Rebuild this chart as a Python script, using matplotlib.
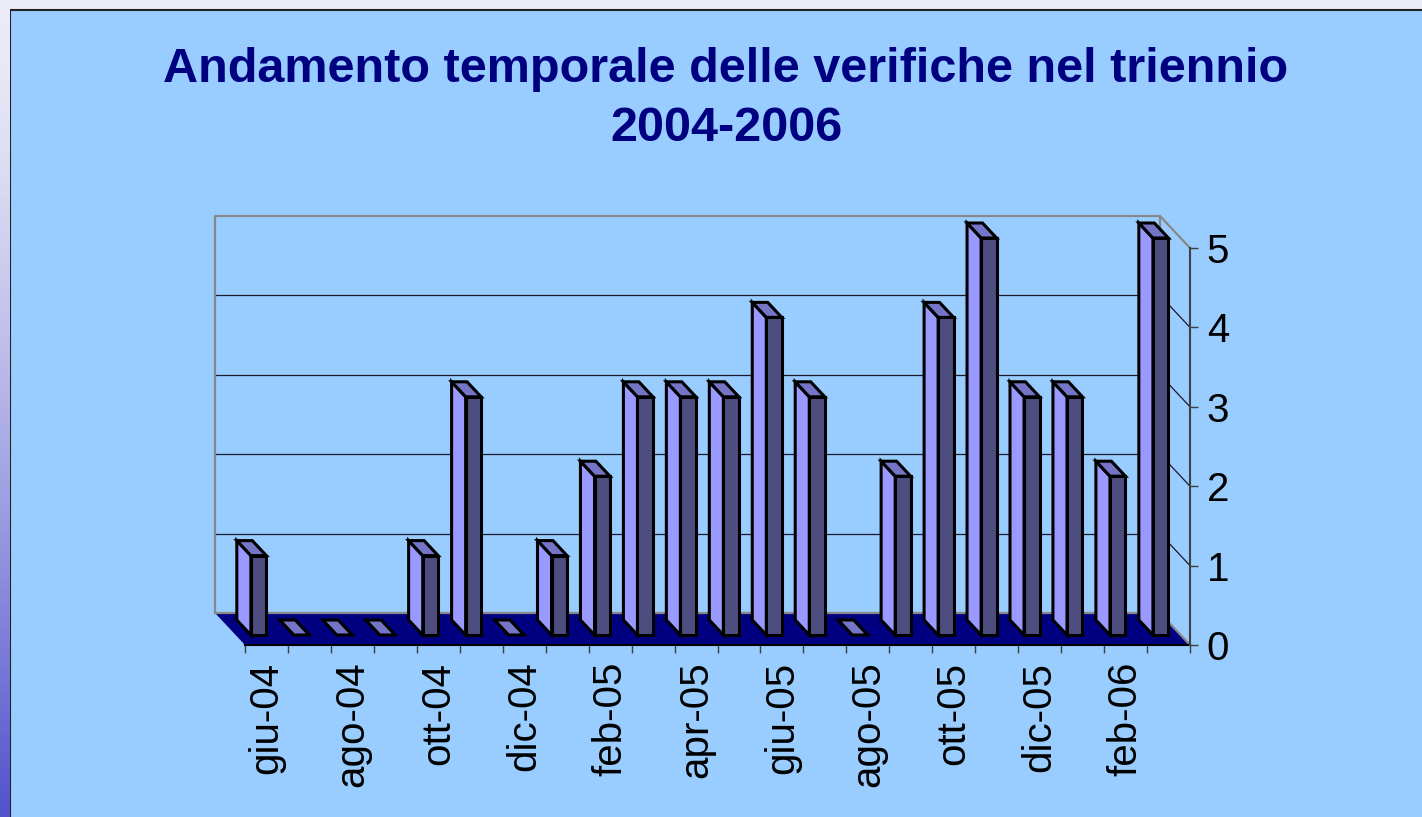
import numpy as np
import matplotlib
matplotlib.use("Agg")
import matplotlib.pyplot as plt
from matplotlib.patches import Polygon, Rectangle
from matplotlib.colors import LinearSegmentedColormap

plt.rcParams['font.family'] = ['Liberation Sans', 'DejaVu Sans']

# ---- data ----
months = ["giu-04", "lug-04", "ago-04", "set-04", "ott-04", "nov-04", "dic-04",
          "gen-05", "feb-05", "mar-05", "apr-05", "mag-05", "giu-05", "lug-05",
          "ago-05", "set-05", "ott-05", "nov-05", "dic-05", "gen-06", "feb-06",
          "mar-06"]
values = [1, 0, 0, 0, 1, 3, 0, 1, 2, 3, 3, 3, 4, 3, 0, 2, 4, 5, 3, 3, 2, 5]
yticks = [0, 1, 2, 3, 4, 5]
title = "Andamento temporale delle verifiche nel triennio\n2004-2006"

# ---- style ----
W, H = 1422, 817
BG = "#99CCFF"
FLOOR = "#000080"
SIDE = "#9999FF"
FRONT = "#4D4D80"
TOP = "#7575C8"
WALL_EDGE = "#888888"
AX_GRAY = "#404040"

fig = plt.figure(figsize=(W / 100, H / 100), dpi=100, facecolor="#ECECF6")

# left gradient strip
gax = fig.add_axes([0, 0, 10 / W, 1])
grad = np.linspace(0, 1, 256) ** 1.4
cmap = LinearSegmentedColormap.from_list("g", ["#ECECF8", "#5252CC"])
gax.imshow(grad[:, None], aspect="auto", cmap=cmap, extent=[0, 1, 0, 1], origin="upper")
gax.axis("off")

# chart area
fig.patches.append(Rectangle((10 / W, -0.01), 1.0, 1 - 10 / H + 0.01,
                             transform=fig.transFigure, facecolor=BG,
                             edgecolor="#222222", linewidth=1.5, zorder=-5))

fig.text(726 / W, 1 - 99 / H, title, ha="center", va="center", fontsize=35,
         fontweight="bold", color="#000080", linespacing=1.42)

n = len(values)
ax = fig.add_axes([245 / W, (H - 645) / H, 945 / W, 397 / H])
ax.set_xlim(0, n)
ax.set_ylim(0, 5)
ax.set_facecolor("none")

# depth vector of the floor (data units)
DX, DY = -30 / (945 / n), 32 / (397 / 5)
f1, f2 = 10 / 32, 25 / 32
bw = 0.36
shift = 0.035

# floor
floor = Polygon([(0, 0), (n, 0), (n + DX, DY), (DX, DY)], closed=True,
                facecolor=FLOOR, edgecolor="none", clip_on=False, zorder=1)
ax.add_patch(floor)
# wall edges
ax.plot([DX, DX, n + DX, n + DX], [DY, 5 + DY, 5 + DY, DY], color=WALL_EDGE,
        lw=1.6, clip_on=False, zorder=1.2)
ax.plot([DX, n + DX], [DY, DY], color=WALL_EDGE, lw=1.6, clip_on=False, zorder=1.2)
ax.plot([n + DX, n], [5 + DY, 5], color=WALL_EDGE, lw=1.6, clip_on=False, zorder=1.2)
ax.plot([n + DX, n], [DY, 0], color=WALL_EDGE, lw=1.6, clip_on=False, zorder=1.2)
# gridlines on back wall and right wall
for v in yticks[1:-1]:
    ax.plot([DX, n + DX], [v + DY, v + DY], color="#1a1a2a", lw=0.9, clip_on=False, zorder=1.1)
    ax.plot([n + DX, n], [v + DY, v], color="#1a1a2a", lw=0.9, clip_on=False, zorder=1.1)

# bars
for i, v in enumerate(values):
    xc = i + 0.5 + shift
    xl, xr = xc - bw / 2, xc + bw / 2
    a1x, a1y = f1 * DX, f1 * DY
    a2x, a2y = f2 * DX, f2 * DY
    kw = dict(closed=True, edgecolor="black", linewidth=2.2, clip_on=False,
              joinstyle="miter", zorder=3)
    if v == 0:
        ax.add_patch(Polygon([(xl + a1x, a1y), (xr + a1x, a1y), (xr + a2x, a2y),
                              (xl + a2x, a2y)], facecolor=TOP, **kw))
        continue
    ax.add_patch(Polygon([(xl + a1x, a1y), (xl + a1x, v + a1y), (xl + a2x, v + a2y),
                          (xl + a2x, a2y)], facecolor=SIDE, **kw))
    ax.add_patch(Polygon([(xl + a1x, v + a1y), (xr + a1x, v + a1y), (xr + a2x, v + a2y),
                          (xl + a2x, v + a2y)], facecolor=TOP, **kw))
    ax.add_patch(Polygon([(xl + a1x, a1y), (xr + a1x, a1y), (xr + a1x, v + a1y),
                          (xl + a1x, v + a1y)], facecolor=FRONT, **kw))

# axes styling
for s in ["top", "left"]:
    ax.spines[s].set_visible(False)
ax.spines["right"].set_color(AX_GRAY)
ax.spines["right"].set_linewidth(1.5)
ax.spines["bottom"].set_color("black")
ax.spines["bottom"].set_linewidth(1.5)
ax.spines["bottom"].set_zorder(2)

ax.yaxis.tick_right()
ax.set_yticks(yticks)
ax.set_yticklabels([str(t) for t in yticks])
ax.tick_params(axis="y", direction="out", length=6, width=1, color=AX_GRAY,
               pad=6, labelsize=29)

ax.set_xticks(np.arange(n + 1))
ax.set_xticks(np.arange(0, n, 2) + 0.5, minor=True)
ax.set_xticklabels([months[i] for i in range(0, n, 2)], minor=True, rotation=90)
ax.tick_params(axis="x", which="major", direction="out", length=6, width=1,
               color=AX_GRAY, labelbottom=False)
ax.tick_params(axis="x", which="minor", length=0, pad=12, labelsize=29)

fig.savefig("out.png", dpi=100, facecolor=fig.get_facecolor())
